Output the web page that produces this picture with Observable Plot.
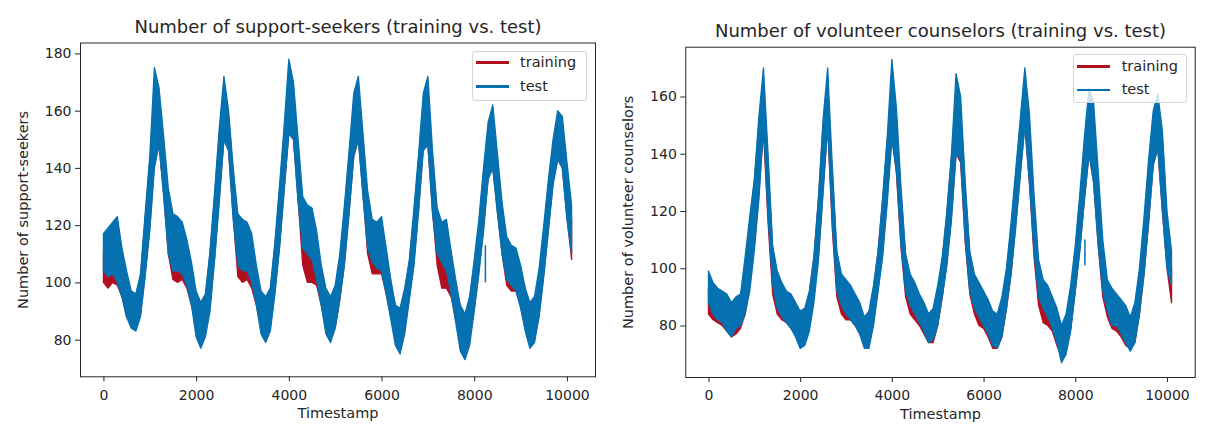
<!DOCTYPE html>
<html><head><meta charset="utf-8">
<script src="https://cdn.jsdelivr.net/npm/d3@7"></script>
<script src="https://cdn.jsdelivr.net/npm/@observablehq/plot@0.6"></script>
<style>
body{margin:0;background:#fff;}
#wrap{position:relative;width:1209px;height:433px;font-family:"DejaVu Sans",sans-serif;color:#262626;overflow:hidden;}
.panel{position:absolute;top:0;}
.lgbox{position:absolute;border:1px solid #d4d4d4;border-radius:3px;background:rgba(255,255,255,0.8);box-sizing:border-box;}
.lgline{position:absolute;height:2.6px;width:33px;}
.lgtext{position:absolute;font-size:14.5px;line-height:16px;transform:translateY(-55%);white-space:nowrap;}
</style></head>
<body><div id="wrap"></div>
<script>
const RED = "#b3101f";
const BLUE = "#0571b0";
const seriesNames = ["training", "test"];
const xTicks = [0, 2000, 4000, 6000, 8000, 10000];
const seekersYTicks = [80, 100, 120, 140, 160, 180];
const counselorsYTicks = [80, 100, 120, 140, 160];

const timestamps = [0,100,200,300,400,500,600,700,800,900,1000,1100,1200,1300,1400,1500,1600,1700,1800,1900,2000,2100,2200,2300,2400,2500,2600,2700,2800,2900,3000,3100,3200,3300,3400,3500,3600,3700,3800,3900,4000,4100,4200,4300,4400,4500,4600,4700,4800,4900,5000,5100,5200,5300,5400,5500,5600,5700,5800,5900,6000,6100,6200,6300,6400,6500,6600,6700,6800,6900,7000,7100,7200,7300,7400,7500,7600,7700,7800,7900,8000,8100,8200,8300,8400,8500,8600,8700,8800,8900,9000,9100,9200,9300,9400,9500,9600,9700,9800,9900,10000,10100];

// Support-seekers: low / high envelope of the noisy series
const seekersTestLo = [104,102,103,100,95,88,84,83,88,102, 118,140,148,130,110,104,104,103,99,92, 81,77,81,90,108,128,150,146,122,106, 104,104,100,92,82,79,83,96,112,132, 152,150,128,112,110,108,101,92,82,79, 84,94,106,124,144,150,130,112,107,105, 104,96,87,78,75,82,94,106,125,146, 148,124,110,107,104,96,86,76,73,78, 90,103,118,136,140,124,110,101,99,97, 91,83,77,79,88,102,118,134,143,140, 122,110];
const seekersTestHi = [117,119,121,123,112,104,97,96,103,124, 144,175,168,151,133,124,123,121,115,107, 97,93,96,111,132,154,172,160,140,124, 122,121,117,106,97,95,98,114,134,155, 178,170,150,130,127,126,118,106,98,95, 99,110,127,146,166,172,152,132,122,121, 123,112,101,92,91,98,108,126,145,166, 172,146,126,121,122,111,101,92,89,95, 108,122,140,156,162,145,128,116,113,112, 106,98,93,95,105,120,136,150,160,158, 142,127];
const seekersTrainLo = [100,98,100,99,95,88,85,85,89,103, 119,142,148,131,110,101,100,101,98,92, 86,86,84,92,109,130,150,146,123,102, 100,101,98,92,84,82,84,97,113,133, 152,150,129,106,100,100,99,92,84,82, 84,94,107,125,144,150,131,110,103,103, 103,96,88,84,84,84,95,107,126,147, 148,125,106,98,98,95,87,81,82,82, 91,104,119,137,140,125,110,99,97,97, 92,84,80,80,89,103,119,135,143,140, 123,108];
const seekersTrainHi = [110,110,112,112,108,102,96,95,102,122, 142,158,160,148,130,118,114,112,110,104, 95,93,95,110,130,152,160,158,138,120, 112,110,110,104,95,93,97,113,132,152, 161,160,146,126,112,112,110,104,96,93, 97,108,125,144,156,158,150,128,116,110, 112,110,100,91,90,97,107,124,143,158, 156,143,122,110,110,108,100,91,88,94, 106,120,138,148,148,142,126,110,104,104, 104,97,91,93,103,118,134,146,148,150, 140,122];
const seekersSpikeT = [8230], seekersSpikeLo = [100], seekersSpikeHi = [113];

// Volunteer counselors
const counselorsTestLo = [88,84,82,81,78,76,79,80,84,92, 106,124,150,118,94,86,83,81,79,76, 72,73,78,88,103,126,150,116,92,87, 84,82,80,77,72,72,80,92,104,123, 145,134,108,92,87,84,81,78,74,75, 80,90,101,117,140,138,110,92,86,83, 80,77,73,72,76,86,98,114,132,150, 130,106,90,86,83,79,74,67,70,78, 92,106,124,140,130,108,92,85,80,80, 77,74,71,74,84,98,116,136,142,120, 100,94];
const counselorsTestHi = [99,95,93,92,91,88,90,91,104,118, 131,153,170,140,108,99,95,92,91,88, 85,86,92,104,125,152,170,136,106,98, 96,94,91,88,83,85,94,106,125,146, 173,156,128,105,98,95,91,88,84,86, 94,104,120,140,168,160,130,106,98,95, 92,89,85,84,90,100,116,134,152,170, 154,126,103,96,94,90,86,80,84,94, 108,126,146,163,158,134,110,96,93,91, 89,87,83,88,100,118,138,155,161,148, 120,106];
const counselorsTrainLo = [84,82,81,80,78,76,77,79,84,94, 108,126,148,116,91,84,82,81,79,77, 79,80,80,90,105,128,150,114,90,84, 82,82,80,77,73,74,81,93,106,125, 147,133,107,90,84,82,80,77,74,74, 80,90,102,118,140,137,109,91,84,80, 79,76,72,72,76,86,98,115,133,150, 130,104,87,81,80,78,73,69,71,79, 92,107,124,140,130,108,90,83,79,78, 76,73,72,74,84,98,116,136,142,120, 100,88];
const counselorsTrainHi = [93,90,88,88,86,84,86,88,100,116, 130,150,155,136,106,96,90,88,87,85, 84,85,91,104,124,150,156,134,104,95, 90,89,88,86,82,84,93,106,124,145, 158,150,126,104,93,89,88,85,80,82, 92,103,119,139,156,155,128,104,95,90, 87,85,80,79,88,99,114,132,150,153, 150,122,100,90,88,88,84,79,82,92, 106,124,142,148,148,130,106,93,90,88, 86,85,82,86,98,115,135,146,146,145, 118,100];
const counselorsSpikeT = [8200], counselorsSpikeLo = [101], counselorsSpikeHi = [110];

function rows(lo, hi) { return timestamps.map((t, i) => ({t, lo: lo[i], hi: hi[i]})); }

function makePanel(cfg) {
  const train = rows(cfg.trainLo, cfg.trainHi);
  const test = rows(cfg.testLo, cfg.testHi);
  const spikes = cfg.spikeT.map((t, i) => ({t, lo: cfg.spikeLo[i], hi: cfg.spikeHi[i]}));
  return Plot.plot({
    width: cfg.width, height: 433,
    marginLeft: cfg.ml, marginRight: cfg.mr, marginTop: cfg.mt, marginBottom: cfg.mb,
    x: {domain: [-505, 10605]},
    y: {domain: cfg.yDomain},
    style: {fontFamily: "DejaVu Sans", fontSize: "14px", color: "#262626", background: "transparent", overflow: "visible"},
    marks: [
      Plot.areaY(train, {x: "t", y1: "lo", y2: "hi", fill: RED, stroke: RED, strokeWidth: 1.3, clip: true}),
      Plot.areaY(test, {x: "t", y1: "lo", y2: "hi", fill: BLUE, stroke: BLUE, strokeWidth: 1.3, clip: true}),
      Plot.ruleX(spikes, {x: "t", y1: "lo", y2: "hi", stroke: BLUE, strokeWidth: 1.5}),
      Plot.frame({stroke: "#262626", strokeWidth: 1}),
      Plot.axisX({ticks: xTicks, tickFormat: "d", tickSize: 5, tickPadding: 8, label: null}),
      Plot.axisY({ticks: cfg.yTicks, tickFormat: "d", tickSize: 5, tickPadding: 4, label: null}),
      Plot.text([cfg.title], {text: d => d, frameAnchor: "top", dy: -15.5, fontSize: 18, textAnchor: "middle", lineAnchor: "middle"}),
      Plot.text(["Timestamp"], {text: d => d, frameAnchor: "bottom", dy: 37, fontSize: 14.5, textAnchor: "middle", lineAnchor: "middle"}),
      Plot.text([cfg.ylabel], {text: d => d, frameAnchor: "left", dx: -57, rotate: -90, fontSize: 14.5, textAnchor: "middle", lineAnchor: "middle"})
    ]
  });
}

const wrap = document.getElementById("wrap");
function addPanel(left, cfg, lg) {
  const div = document.createElement("div");
  div.className = "panel";
  div.style.left = left + "px";
  div.appendChild(makePanel(cfg));
  wrap.appendChild(div);
  const box = document.createElement("div");
  box.className = "lgbox";
  Object.assign(box.style, {left: lg.x + "px", top: lg.y + "px", width: lg.w + "px", height: lg.h + "px"});
  wrap.appendChild(box);
  [RED, BLUE].forEach((c, i) => {
    const yy = lg.rows[i];
    const ln = document.createElement("div");
    ln.className = "lgline";
    Object.assign(ln.style, {left: lg.lx + "px", top: (yy - 1.3) + "px", background: c});
    wrap.appendChild(ln);
    const tx = document.createElement("div");
    tx.className = "lgtext";
    tx.textContent = seriesNames[i];
    Object.assign(tx.style, {left: lg.tx + "px", top: yy + "px"});
    wrap.appendChild(tx);
  });
}

addPanel(0, {
  width: 600, ml: 80, mr: 5, mt: 42.5, mb: 56.7, yDomain: [67.2, 183.8], yTicks: seekersYTicks,
  title: "Number of support-seekers (training vs. test)", ylabel: "Number of support-seekers",
  testLo: seekersTestLo, testHi: seekersTestHi, trainLo: seekersTrainLo, trainHi: seekersTrainHi,
  spikeT: seekersSpikeT, spikeLo: seekersSpikeLo, spikeHi: seekersSpikeHi
}, {x: 471.7, y: 50.7, w: 115, h: 50, lx: 476, tx: 520, rows: [62.7, 86.7]});

addPanel(600, {
  width: 609, ml: 85.3, mr: 14.3, mt: 46.7, mb: 56, yDomain: [62.0, 177.4], yTicks: counselorsYTicks,
  title: "Number of volunteer counselors (training vs. test)", ylabel: "Number of volunteer counselors",
  testLo: counselorsTestLo, testHi: counselorsTestHi, trainLo: counselorsTrainLo, trainHi: counselorsTrainHi,
  spikeT: counselorsSpikeT, spikeLo: counselorsSpikeLo, spikeHi: counselorsSpikeHi
}, {x: 1073.3, y: 54, w: 114, h: 49.3, lx: 1077, tx: 1121.7, rows: [66.7, 90]});
</script>
</body></html>
